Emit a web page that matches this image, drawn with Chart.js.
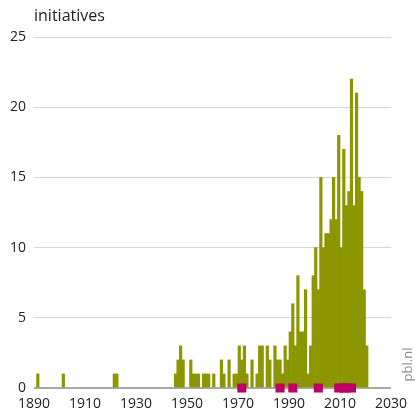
<!DOCTYPE html>
<html>
<head>
<meta charset="utf-8">
<script src="https://cdn.jsdelivr.net/npm/chart.js@4.4.0/dist/chart.umd.min.js"></script>
<style>
  html, body { margin: 0; padding: 0; background: #fff; }
  #chart { display: block; }
</style>
</head>
<body>
<canvas id="chart" width="415" height="418"></canvas>
<script>
// number of initiatives per year
const years = [
  1891, 1901, 1921, 1922,
  1945, 1946, 1947, 1948, 1951, 1952, 1953, 1954, 1956, 1957, 1958, 1960,
  1963, 1964, 1966, 1968, 1969, 1970, 1971, 1972, 1973, 1975, 1977, 1978,
  1979, 1981, 1982, 1984, 1985, 1986, 1987, 1988, 1989, 1990, 1991, 1992,
  1993, 1994, 1995, 1996, 1997, 1998, 1999, 2000, 2001, 2002, 2003, 2004,
  2005, 2006, 2007, 2008, 2009, 2010, 2011, 2012, 2013, 2014, 2015, 2016,
  2017, 2018, 2019, 2020
];
const initiatives = [
  1, 1, 1, 1,
  1, 2, 3, 2, 2, 1, 1, 1, 1, 1, 1, 1,
  2, 1, 2, 1, 1, 3, 2, 3, 1, 2, 1, 3,
  3, 3, 2, 3, 2, 2, 1, 3, 2, 4, 6, 3,
  8, 4, 4, 7, 1, 3, 8, 10, 7, 15, 10, 11,
  11, 12, 15, 12, 18, 10, 17, 13, 14, 22, 13, 21,
  15, 14, 7, 3
];
// years marked with a magenta block on the axis
const eventYears = [1971, 1986, 1991, 2001, 2009, 2011, 2012, 2014];

const xTicks = [1890, 1910, 1930, 1950, 1970, 1990, 2010, 2030];
const yTicks = [0, 5, 10, 15, 20, 25];

const OLIVE = "#8c9600";
const MAGENTA = "#bd0063";
const FONT = "'Open Sans', 'Noto Sans', sans-serif";

const barData = years.map((y, i) => ({ x: y + 0.5, y: initiatives[i] }));
const eventData = eventYears.map(y => ({ x: y + 0.5, y: 0 }));

const textPlugin = {
  id: "texts",
  afterDraw(chart) {
    const { ctx, chartArea } = chart;
    ctx.save();
    ctx.fillStyle = "#222";
    ctx.font = "16px " + FONT;
    ctx.textAlign = "left";
    ctx.textBaseline = "alphabetic";
    ctx.fillText("initiatives", chartArea.left, 21);

    ctx.fillStyle = "#8c8c8c";
    ctx.font = "13px " + FONT;
    ctx.translate(412, 364.5);
    ctx.rotate(-Math.PI / 2);
    ctx.textAlign = "center";
    ctx.fillText("pbl.nl", 0, 0);
    ctx.restore();
  }
};

new Chart(document.getElementById("chart").getContext("2d"), {
  type: "bar",
  data: {
    datasets: [
      {
        type: "scatter",
        label: "events",
        data: eventData,
        pointStyle: "rect",
        pointRadius: 6.4,
        pointHoverRadius: 6.4,
        pointBackgroundColor: MAGENTA,
        pointBorderWidth: 0,
        clip: false,
        order: 0
      },
      {
        label: "initiatives",
        data: barData,
        backgroundColor: OLIVE,
        borderWidth: 0,
        barPercentage: 1,
        categoryPercentage: 1,
        order: 1
      }
    ]
  },
  options: {
    responsive: false,
    animation: false,
    devicePixelRatio: 1,
    layout: { padding: { top: 37, right: 20, left: 0, bottom: 0 } },
    plugins: {
      legend: { display: false },
      tooltip: { enabled: false },
      title: { display: false }
    },
    scales: {
      x: {
        type: "linear",
        min: xTicks[0],
        max: xTicks[xTicks.length - 1],
        offset: false,
        grid: { display: false, drawTicks: false },
        border: { display: false },
        afterFit: s => { s.height = 30; },
        afterBuildTicks: s => { s.ticks = xTicks.map(v => ({ value: v })); },
        ticks: {
          autoSkip: false,
          maxRotation: 0,
          padding: 8,
          color: "#222",
          font: { family: FONT, size: 14 },
          callback: v => String(v)
        }
      },
      y: {
        min: 0,
        max: 25,
        grid: {
          drawTicks: false,
          color: c => (c.tick && c.tick.value === 0 ? "#a8a8a8" : "#d6d6d6"),
          lineWidth: c => (c.tick && c.tick.value === 0 ? 2 : 1)
        },
        border: { display: false },
        afterFit: s => { s.width = 34; },
        afterBuildTicks: s => { s.ticks = yTicks.map(v => ({ value: v })); },
        ticks: {
          padding: 8,
          color: "#222",
          font: { family: FONT, size: 14 }
        }
      }
    }
  },
  plugins: [textPlugin]
});
</script>
</body>
</html>
